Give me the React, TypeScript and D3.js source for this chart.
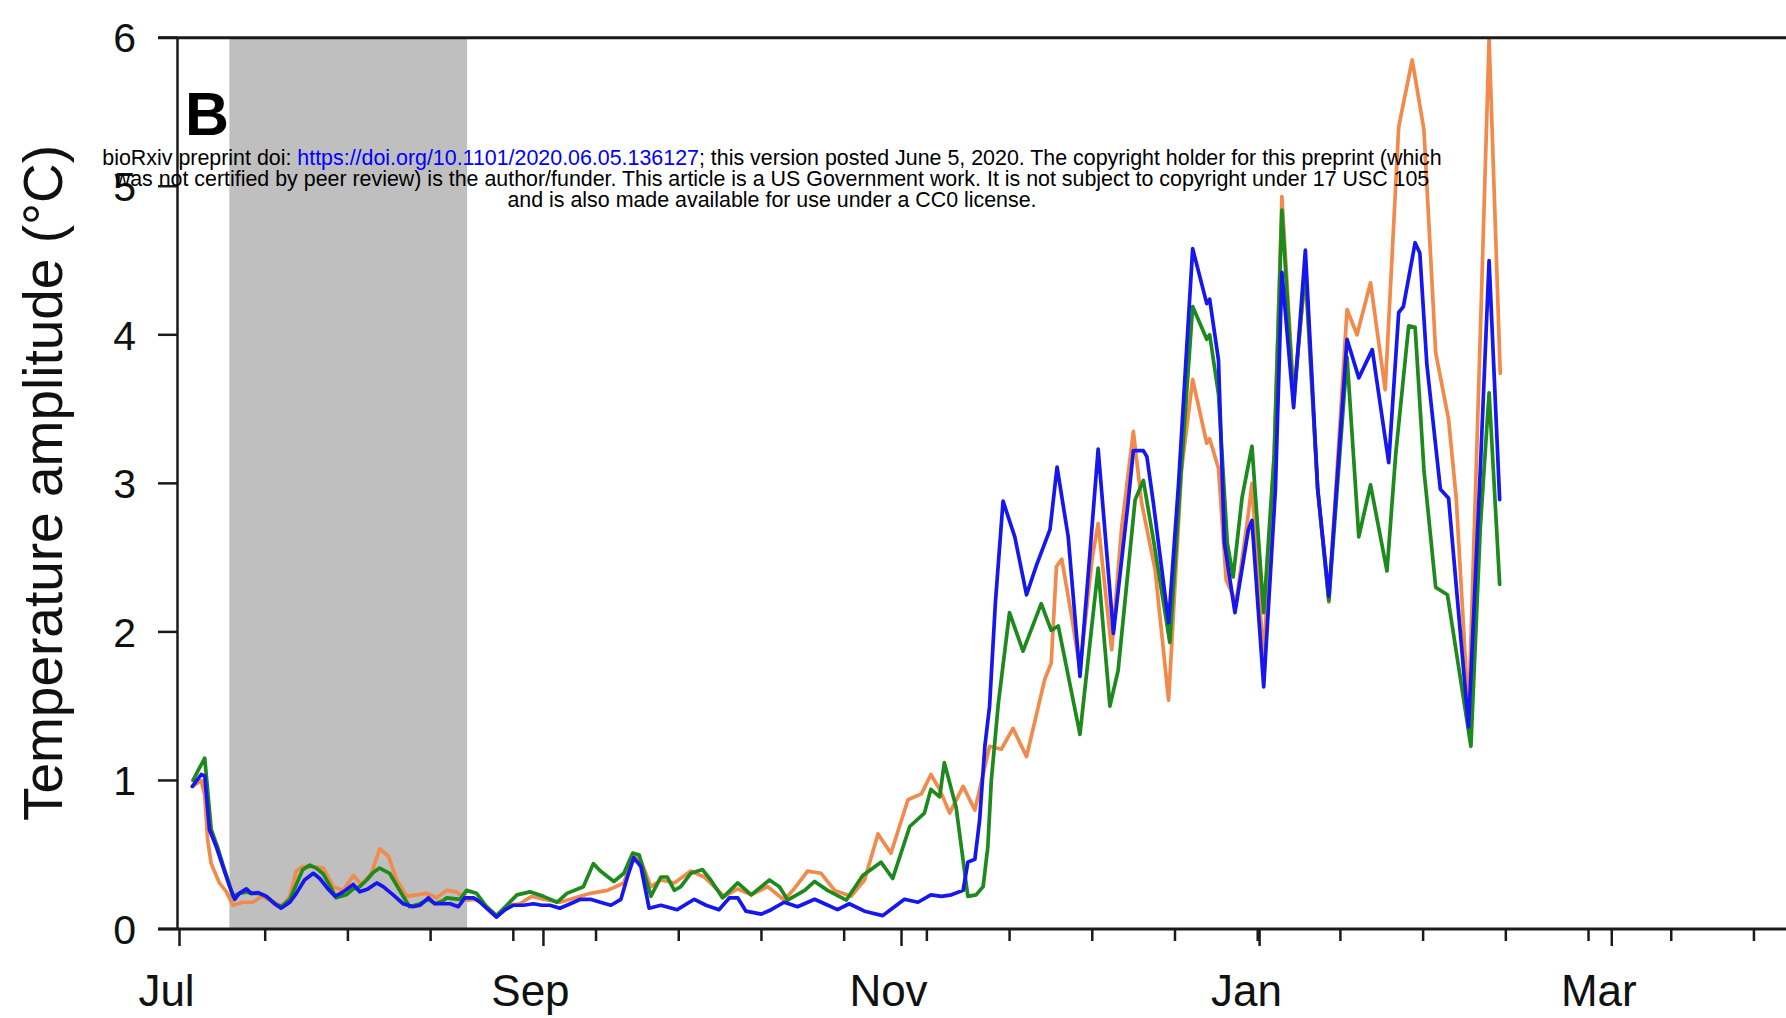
import React from 'react';
import * as d3 from 'd3';

// ---------- data (day offset from 1 Jul 2019, temperature amplitude °C) ----------
const monthTickDates = [
  new Date(2019, 6, 1),
  new Date(2019, 8, 1),
  new Date(2019, 10, 1),
  new Date(2020, 0, 1),
  new Date(2020, 2, 1),
];
const monthLabels = ['Jul', 'Sep', 'Nov', 'Jan', 'Mar'];
const yTickValues = [0, 1, 2, 3, 4, 5, 6];
const shadedPeriodDays = [8.5, 49];
const minorTickStartDay = 14.6;
const minorTickStepDays = 14.09;

const orangeSeries: [number, number][] = [
  [2.2, 0.96], [3.7, 1.0], [4.3, 0.9], [4.8, 0.6], [5.4, 0.44], [6.8, 0.31], [8, 0.25], [9.1, 0.16],
  [10.8, 0.18], [12.5, 0.18], [14, 0.22], [16.2, 0.18], [17.5, 0.15], [18.8, 0.22], [19.9, 0.39],
  [21, 0.42], [22.5, 0.42], [24.5, 0.41], [26.2, 0.285], [27.9, 0.26], [29.6, 0.36], [31, 0.3],
  [32.7, 0.375], [34.1, 0.54], [35.6, 0.49], [37, 0.33], [38.7, 0.22], [40.4, 0.23], [42.1, 0.24],
  [43.8, 0.21], [45.5, 0.26], [47.2, 0.25], [48.9, 0.195], [50.6, 0.2], [52.3, 0.15], [54, 0.09],
  [56, 0.16], [58, 0.17], [60, 0.22], [62, 0.2], [64.8, 0.18], [66.6, 0.2], [68.3, 0.22], [70, 0.24],
  [72.9, 0.26], [75.7, 0.31], [77.4, 0.51], [78.6, 0.46], [80.3, 0.285], [82, 0.33], [84.3, 0.31],
  [87.1, 0.39], [89.4, 0.35], [92.8, 0.22], [95.1, 0.27], [97.4, 0.23], [100.2, 0.285], [103, 0.195],
  [104.7, 0.27], [107, 0.39], [109.3, 0.375], [111.6, 0.26], [114.4, 0.22], [116.7, 0.33], [119, 0.64],
  [121.2, 0.51], [124.1, 0.87], [126.4, 0.91], [128, 1.04], [129.5, 0.94], [131.2, 0.78], [133.5, 0.96],
  [135.5, 0.8], [138, 1.23], [140, 1.21], [142, 1.35], [144.3, 1.16], [147.4, 1.68], [148.5, 1.79],
  [149.4, 2.44], [150.3, 2.49], [152, 2.1], [153.4, 1.75], [155.5, 2.5], [156.5, 2.73], [158.8, 1.88],
  [160.5, 2.7], [162.5, 3.35], [163.9, 2.87], [166.2, 2.42], [168.5, 1.54], [170.7, 3.09], [172.6, 3.7],
  [175, 3.27], [175.5, 3.3], [177, 3.1], [178.3, 2.35], [180, 2.2], [182.1, 2.8], [182.7, 3.0],
  [184.7, 1.8], [186.5, 3.2], [187.8, 4.93], [189.8, 3.6], [191.8, 4.4], [193.9, 2.96], [195.8, 2.2],
  [198.9, 4.17], [200.6, 4.0], [202.9, 4.35], [205.4, 3.63], [207.7, 5.4], [210, 5.85], [212, 5.38],
  [214, 3.88], [216.2, 3.43], [217.5, 2.9], [219.6, 1.43], [221.6, 4.0], [223.1, 5.99], [225, 3.74],
];

const greenSeries: [number, number][] = [
  [2.3, 1.0], [3.2, 1.07], [4.3, 1.15], [5.4, 0.67], [6.5, 0.55], [7.5, 0.42], [8.5, 0.3], [9.1, 0.22],
  [10.2, 0.24], [11.4, 0.25], [12.2, 0.24], [13.4, 0.24], [14.8, 0.22], [16.2, 0.17], [17.3, 0.15],
  [18.8, 0.2], [19.9, 0.3], [21, 0.4], [22.2, 0.43], [23.3, 0.41], [24.5, 0.37], [25.5, 0.3],
  [26.7, 0.21], [28.4, 0.23], [29.6, 0.27], [30.7, 0.285], [31.9, 0.33], [33, 0.38], [34.1, 0.41],
  [35.8, 0.375], [37.5, 0.26], [39.2, 0.15], [41, 0.17], [42.4, 0.2], [43.5, 0.17], [44.9, 0.19],
  [45.5, 0.21], [47.8, 0.2], [48.9, 0.26], [50.6, 0.24], [52.3, 0.15], [54, 0.09], [55.5, 0.15],
  [57.5, 0.23], [59.7, 0.25], [62, 0.22], [64.3, 0.18], [66, 0.24], [68.8, 0.285], [70.5, 0.44],
  [71.7, 0.39], [74, 0.32], [75.7, 0.375], [77.2, 0.51], [78.3, 0.5], [80.3, 0.22], [82, 0.35],
  [83.1, 0.35], [84.3, 0.26], [85.4, 0.285], [87.1, 0.375], [89.1, 0.4], [90.5, 0.33], [92.5, 0.21],
  [95.1, 0.31], [97.4, 0.23], [100.5, 0.33], [102.2, 0.285], [103.6, 0.195], [106.5, 0.26], [108.2, 0.32],
  [110.4, 0.26], [113.6, 0.195], [116.4, 0.36], [119.5, 0.45], [121.5, 0.34], [124.4, 0.69], [126.9, 0.78],
  [128, 0.94], [129.5, 0.89], [130.3, 1.12], [132.3, 0.82], [133.2, 0.55], [134.3, 0.22], [135.7, 0.23],
  [136.9, 0.285], [137.7, 0.55], [138.3, 1.0], [139.5, 1.52], [141.4, 2.13], [143.7, 1.87], [146.8, 2.19],
  [148.5, 2.01], [149.7, 2.04], [153.4, 1.31], [156.5, 2.43], [158.5, 1.5], [159.9, 1.74], [162.8, 2.89],
  [164.2, 3.02], [166, 2.6], [168.7, 1.93], [170.5, 3.0], [172.6, 4.19], [175, 3.97], [175.5, 4.0],
  [177, 3.6], [178.5, 2.6], [179.5, 2.37], [181, 2.9], [182.7, 3.25], [184.7, 2.13], [186.5, 3.2],
  [187.8, 4.84], [189.8, 3.55], [191.8, 4.45], [193.9, 2.96], [195.8, 2.21], [198.9, 3.85], [200.9, 2.64],
  [202.9, 2.99], [205.7, 2.41], [207.2, 3.2], [209.4, 4.06], [210.5, 4.05], [212, 3.09], [214, 2.3],
  [216, 2.25], [220, 1.23], [221.6, 2.7], [223.1, 3.61], [224.9, 2.32],
];

const blueSeries: [number, number][] = [
  [2.2, 0.96], [3.7, 1.04], [4.3, 1.03], [5.1, 0.67], [6.3, 0.55], [7.4, 0.42], [8.5, 0.29], [9.4, 0.2],
  [10.2, 0.24], [11.4, 0.27], [12.2, 0.24], [13.4, 0.245], [14.8, 0.22], [16.2, 0.17], [17.3, 0.14],
  [18.8, 0.18], [19.9, 0.24], [21.3, 0.33], [22.8, 0.375], [23.9, 0.34], [25.3, 0.27], [26.5, 0.22],
  [27.9, 0.25], [29.6, 0.3], [30.7, 0.25], [32.1, 0.27], [33.6, 0.31], [34.7, 0.285], [36.4, 0.23],
  [38.1, 0.17], [39.8, 0.15], [41, 0.16], [42.4, 0.21], [43.5, 0.17], [44.9, 0.17], [46.1, 0.17],
  [47.5, 0.15], [48.6, 0.21], [50.1, 0.21], [51.2, 0.18], [52.3, 0.14], [54, 0.08], [55.5, 0.13],
  [56.9, 0.16], [58.6, 0.16], [60.3, 0.17], [61.7, 0.16], [63.1, 0.16], [64.8, 0.14], [66.6, 0.17],
  [68.3, 0.2], [70, 0.2], [71.7, 0.18], [73.5, 0.16], [75.2, 0.2], [76.3, 0.35], [77.4, 0.48],
  [78.6, 0.42], [80, 0.14], [82, 0.16], [84.8, 0.13], [87.7, 0.2], [89.7, 0.16], [91.9, 0.13],
  [93.7, 0.21], [95.1, 0.21], [96.5, 0.12], [99.1, 0.1], [100.8, 0.13], [103, 0.18], [105.3, 0.15],
  [108.2, 0.2], [109.9, 0.17], [112.1, 0.13], [114.1, 0.17], [116.7, 0.12], [119.8, 0.09], [121.8, 0.15],
  [123.5, 0.2], [125.8, 0.18], [128, 0.23], [129.8, 0.22], [131.5, 0.23], [133.5, 0.26], [134.3, 0.45],
  [135.5, 0.47], [136.3, 0.73], [137.2, 1.23], [138, 1.5], [139, 2.2], [140.3, 2.88], [142.3, 2.64],
  [144.3, 2.25], [146, 2.45], [148.3, 2.69], [149.5, 3.11], [151.4, 2.64], [153.4, 1.7], [155.1, 2.53],
  [156.5, 3.23], [159.1, 1.99], [161.6, 2.87], [162.5, 3.22], [164.2, 3.22], [164.8, 3.18], [165.9, 2.87],
  [168.5, 2.06], [170.2, 3.0], [172.6, 4.58], [175, 4.21], [175.5, 4.24], [177, 3.83], [178, 2.6],
  [179.8, 2.13], [182.1, 2.69], [182.7, 2.75], [184.7, 1.63], [186.7, 2.96], [187.8, 4.42], [189.8, 3.51],
  [191.8, 4.57], [193.9, 2.96], [195.8, 2.24], [198.9, 3.97], [200.9, 3.71], [203.2, 3.9], [206, 3.14],
  [207.7, 4.15], [208.5, 4.19], [210.5, 4.62], [211.3, 4.55], [212.5, 3.8], [214.8, 2.96], [216.2, 2.9],
  [219.6, 1.36], [221.6, 3.09], [223.1, 4.5], [224.9, 2.89],
];

const watermarkLine1a = 'bioRxiv preprint doi: ';
const watermarkLink = 'https://doi.org/10.1101/2020.06.05.136127';
const watermarkLine1b = '; this version posted June 5, 2020. The copyright holder for this preprint (which';
const watermarkLine2 = 'was not certified by peer review) is the author/funder. This article is a US Government work. It is not subject to copyright under 17 USC 105';
const watermarkLine3 = 'and is also made available for use under a CC0 license.';

// ---------- helpers ----------
const W = 1786;
const H = 1018;
const origin = new Date(2019, 6, 1);
const dayToDate = (d: number) => new Date(origin.getTime() + d * 86400000);

const FONT = "'Liberation Sans', Arial, Helvetica, sans-serif";

export default function App() {
  const x0 = 179.5;
  const pxPerDay = 5.87;
  const x = d3
    .scaleTime()
    .domain([monthTickDates[0], monthTickDates[monthTickDates.length - 1]])
    .range([x0, x0 + 244 * pxPerDay]);
  const yTop = 37.7;
  const yBottom = 929;
  const y = d3.scaleLinear().domain([0, 6]).range([yBottom, yTop]);
  const axisLeft = 177.5;
  const axisStart = 158;

  const minorTicks = d3
    .range(0, 20)
    .map((k) => dayToDate(minorTickStartDay + k * minorTickStepDays))
    .filter((d) => x(d) < W);

  const line = d3
    .line<[number, number]>()
    .x((d) => x(dayToDate(d[0])))
    .y((d) => y(d[1]))
    .curve(d3.curveLinear);

  const series = [
    { data: orangeSeries, color: '#f28a4c' },
    { data: greenSeries, color: '#1d8a1d' },
    { data: blueSeries, color: '#1616ee' },
  ];

  const band0 = x(dayToDate(shadedPeriodDays[0]));
  const band1 = x(dayToDate(shadedPeriodDays[1]));

  return (
    <svg
      width={W}
      height={H}
      viewBox={`0 0 ${W} ${H}`}
      style={{ position: 'absolute', left: 0, top: 0, background: '#fff' }}
      fontFamily={FONT}
    >
      <rect x={0} y={0} width={W} height={H} fill="#fff" />
      {/* shaded period */}
      <rect x={band0} y={yTop} width={band1 - band0} height={yBottom - yTop} fill="#bfbfbf" />

      {/* series */}
      {series.map((s, i) => (
        <path
          key={i}
          d={line(s.data) || ''}
          fill="none"
          stroke={s.color}
          strokeWidth={3.7}
          strokeLinejoin="round"
          strokeLinecap="round"
        />
      ))}

      {/* frame lines */}
      <line x1={axisStart} x2={W} y1={yTop} y2={yTop} stroke="#1a1a1a" strokeWidth={3} />
      <line x1={axisStart} x2={W} y1={yBottom} y2={yBottom} stroke="#1a1a1a" strokeWidth={3} />
      <line x1={axisLeft} x2={axisLeft} y1={yTop} y2={yBottom} stroke="#1a1a1a" strokeWidth={2.5} />

      {/* y ticks */}
      {yTickValues.map((v) => (
        <g key={v}>
          <line x1={axisStart} x2={axisLeft} y1={y(v)} y2={y(v)} stroke="#1a1a1a" strokeWidth={2.5} />
          <text x={136} y={y(v)} dy="0.36em" textAnchor="end" fontSize={41} fill="#111">
            {v}
          </text>
        </g>
      ))}

      {/* x ticks */}
      {minorTicks.map((d, i) => (
        <line key={i} x1={x(d)} x2={x(d)} y1={yBottom} y2={yBottom + 12} stroke="#1a1a1a" strokeWidth={2.5} />
      ))}
      {monthTickDates.map((d, i) => (
        <g key={i}>
          <line x1={x(d)} x2={x(d)} y1={yBottom} y2={yBottom + 17} stroke="#1a1a1a" strokeWidth={2.5} />
          <text x={x(d) - 13} y={1006} textAnchor="middle" fontSize={44} fill="#111">
            {monthLabels[i]}
          </text>
        </g>
      ))}

      {/* y-axis title */}
      <text
        transform={`translate(62,483) rotate(-90)`}
        textAnchor="middle"
        fontSize={55}
        fill="#111"
      >
        Temperature amplitude (°C)
      </text>

      {/* panel label */}
      <text x={185} y={135} fontSize={61} fontWeight="bold" fill="#000">
        B
      </text>

      {/* preprint watermark */}
      <g fontSize={21.4} textAnchor="middle" fill="#000">
        <text x={772} y={165}>
          {watermarkLine1a}
          <tspan fill="#0000ff">{watermarkLink}</tspan>
          {watermarkLine1b}
        </text>
        <text x={772} y={186}>{watermarkLine2}</text>
        <text x={772} y={206.5}>{watermarkLine3}</text>
      </g>
    </svg>
  );
}
